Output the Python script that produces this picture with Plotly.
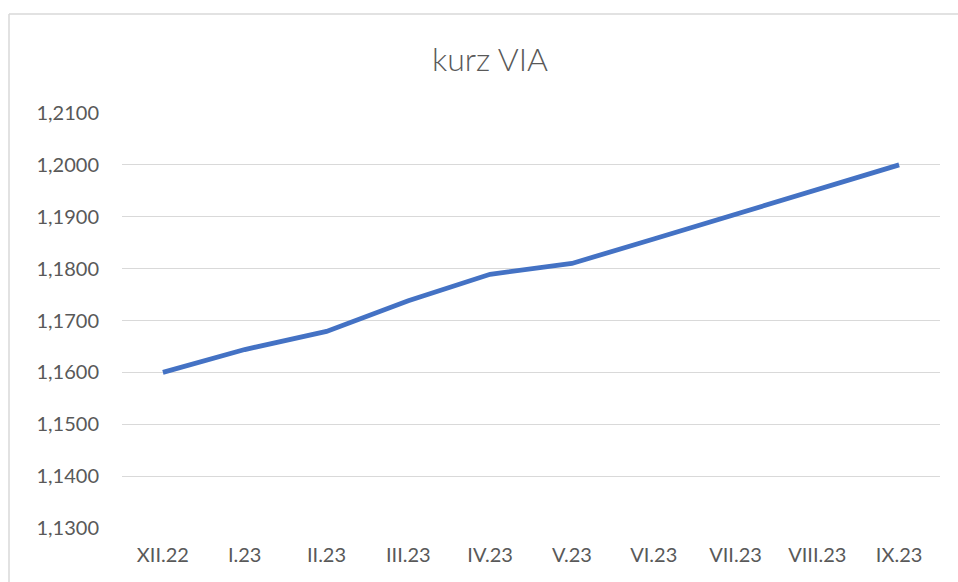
import plotly.graph_objects as go

categories = ["XII.22", "I.23", "II.23", "III.23", "IV.23", "V.23",
              "VI.23", "VII.23", "VIII.23", "IX.23"]
kurz = [1.1600, 1.1644, 1.1679, 1.1738, 1.1789, 1.1810,
        1.1857, 1.1905, 1.1952, 1.2000]
y_ticks = [1.13, 1.14, 1.15, 1.16, 1.17, 1.18, 1.19, 1.20, 1.21]

W, H = 958, 582
L, R, T, B = 122, 18, 113, 54
pw, ph = W - L - R, H - T - B

fig = go.Figure()
fig.add_trace(go.Scatter(
    x=categories, y=kurz, mode="lines",
    line=dict(color="#4472C4", width=4.8),
    hoverinfo="x+y",
))

font_family = "Lato, 'Open Sans', sans-serif"
fig.update_layout(
    width=W, height=H,
    margin=dict(l=L, r=R, t=T, b=B),
    paper_bgcolor="white", plot_bgcolor="white",
    separators=", ",
    showlegend=False,
    title=dict(text="kurz VIA", x=490 / W, xanchor="center",
               y=1 - 60 / H, yanchor="middle", yref="container",
               font=dict(family=font_family, size=32, color="#595959", weight=300)),
    xaxis=dict(type="category", range=[-0.5, len(categories) - 0.5],
               showgrid=False, zeroline=False,
               showline=False, ticks="",
               tickfont=dict(family=font_family, size=20, color="#595959"),
               ticklabelstandoff=13),
    yaxis=dict(range=[1.13, 1.21], tickvals=y_ticks, tickformat=".4f",
               showgrid=True, gridcolor="#d9d9d9", gridwidth=1,
               zeroline=False, showline=False, ticks="",
               tickfont=dict(family=font_family, size=20, color="#595959"),
               ticklabelstandoff=22),
    shapes=[
        dict(type="line", xref="paper", yref="paper",
             x0=(9 - L) / pw, x1=(9 - L) / pw,
             y0=(H - B - 582) / ph, y1=(H - B - 14) / ph,
             line=dict(color="#d9d9d9", width=1.5)),
        dict(type="line", xref="paper", yref="paper",
             x0=(9 - L) / pw, x1=(W - L) / pw,
             y0=(H - B - 14) / ph, y1=(H - B - 14) / ph,
             line=dict(color="#d9d9d9", width=1.5)),
    ],
)

fig.write_html("out.html",
               config={"displayModeBar": False},
               post_script="document.body.style.margin='0';"
                           "document.body.style.overflow='hidden';")
